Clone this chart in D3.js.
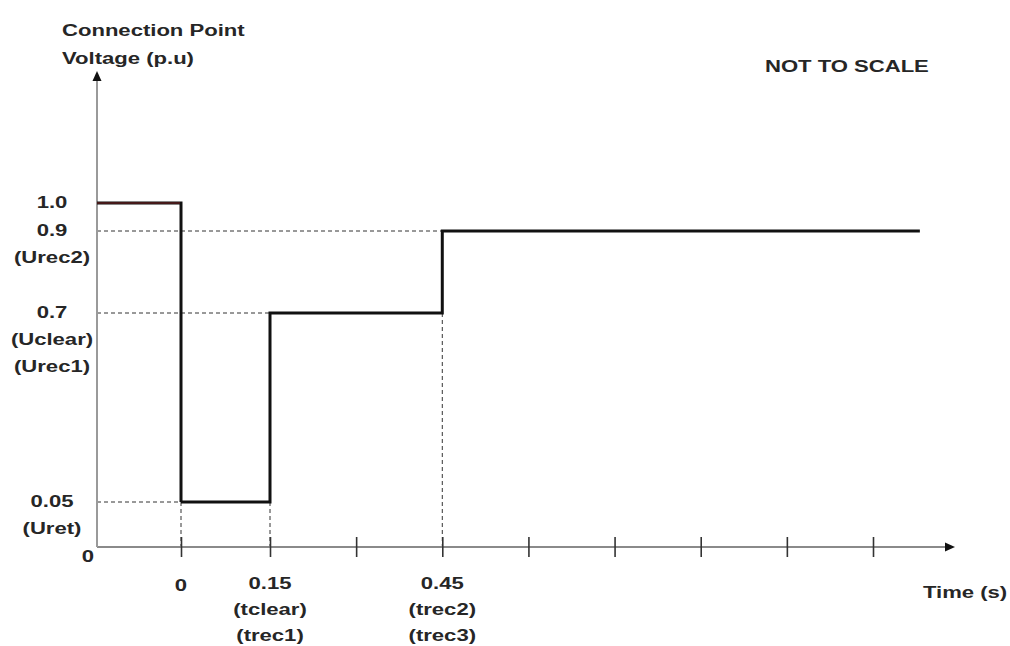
<!DOCTYPE html>
<html><head><meta charset="utf-8">
<script src="https://cdn.jsdelivr.net/npm/d3@7"></script>
<style>
body{margin:0;background:#fff;}
text{font-family:"Liberation Sans",Arial,sans-serif;font-weight:bold;fill:#262626;font-size:16px;}
</style></head>
<body><svg id="c" width="1010" height="646"></svg>
<script>
// ---- data ----
const timeTicks = [0, 0.15, 0.3, 0.45, 0.6, 0.75, 0.9, 1.05, 1.2];
const stepTimes = [-0.15, 0, 0.15, 0.45, 1.28];
const stepVolts = [1.0, 0.05, 0.7, 0.9, 0.9];
const yLevels = [1.0, 0.9, 0.7, 0.05];
const yLabelLines = [["1.0"], ["0.9", "(Urec2)"], ["0.7", "(Uclear)", "(Urec1)"], ["0.05", "(Uret)"]];
const xLabelTimes = [0, 0.15, 0.45];
const xLabelLines = [["0"], ["0.15", "(tclear)", "(trec1)"], ["0.45", "(trec2)", "(trec3)"]];
const yTitle = ["Connection Point", "Voltage (p.u)"];
const xTitle = "Time (s)";
const note = "NOT TO SCALE";

// ---- scales (not to scale: piecewise) ----
const x = d3.scaleLinear().domain([-0.15, 0, 0.15, 1.2, 1.34]).range([97, 181, 270, 873, 955]);
const y = d3.scaleLinear().domain([0, 0.05, 0.7, 0.9, 1.0, 1.47]).range([547, 502, 313, 231, 203, 71]);

const svg = d3.select("#c");
const SX = 1.38;
function stext(g, str, px, py, anchor) {
  return g.append("text").attr("transform", `translate(${px},${py}) scale(${SX},1)`)
    .attr("text-anchor", anchor || "middle").text(str);
}

// dashed guide lines
const guides = svg.append("g").attr("stroke", "#333").attr("stroke-width", 1).attr("stroke-dasharray", "4,3");
const pts = stepTimes.map((t, i) => [t, stepVolts[i]]);
[[0.9, 0.45], [0.7, 0.15], [0.05, 0]].forEach(([v, t]) => {
  guides.append("line").attr("x1", x(-0.15)).attr("x2", x(t)).attr("y1", y(v)).attr("y2", y(v));
});
[[0, 0.05], [0.15, 0.05], [0.45, 0.7]].forEach(([t, v]) => {
  guides.append("line").attr("x1", x(t)).attr("x2", x(t)).attr("y1", y(v)).attr("y2", y(0));
});

// axes
const ax = svg.append("g");
ax.append("line").attr("x1", x(-0.15)).attr("x2", x(1.34) - 8).attr("y1", y(0)).attr("y2", y(0))
  .attr("stroke", "#8a8a8a").attr("stroke-width", 2);
ax.append("line").attr("x1", x(-0.15)).attr("x2", x(-0.15)).attr("y1", y(0)).attr("y2", y(1.47) + 8)
  .attr("stroke", "#9a9a9a").attr("stroke-width", 2);
ax.append("path").attr("d", `M${x(1.34)},${y(0)} l-10,-4.5 l0,9 z`).attr("fill", "#111");
ax.append("path").attr("d", `M${x(-0.15)},${y(1.47)} l-4.5,10 l9,0 z`).attr("fill", "#111");

// ticks via d3 axis
const xAxis = d3.axisBottom(x).tickValues(timeTicks).tickSize(20).tickFormat("");
const xg = svg.append("g").attr("transform", `translate(0,${y(0) - 10})`).call(xAxis);
xg.select(".domain").remove();
xg.selectAll(".tick line").attr("stroke", "#333").attr("stroke-width", 1.6);

// step line
const line = d3.line().x(d => x(d[0])).y(d => y(d[1])).curve(d3.curveStepAfter);
svg.append("path").datum(pts.slice(1)).attr("d", line)
  .attr("fill", "none").attr("stroke", "#111").attr("stroke-width", 3).attr("stroke-linejoin", "miter");
svg.append("path").datum(pts.slice(0, 2)).attr("d", line)
  .attr("fill", "none").attr("stroke", "#111").attr("stroke-width", 3);
svg.append("line").attr("x1", x(-0.15)).attr("x2", x(0) - 1).attr("y1", y(1.0)).attr("y2", y(1.0))
  .attr("stroke", "#7a2020").attr("stroke-width", 1.2);

// labels
const tg = svg.append("g");
yLevels.forEach((v, i) => {
  yLabelLines[i].forEach((s, j) => stext(tg, s, 52, y(v) + 5 + j * 27));
});
stext(tg, "0", 88, y(0) + 15);
xLabelTimes.forEach((t, i) => {
  xLabelLines[i].forEach((s, j) => stext(tg, s, x(t), y(0) + (i === 0 ? 44 : 42) + j * 26));
});
yTitle.forEach((s, j) => stext(tg, s, 62, 36 + j * 28, "start"));
stext(tg, xTitle, 923, 598, "start");
stext(tg, note, 765, 72, "start");
</script></body></html>
